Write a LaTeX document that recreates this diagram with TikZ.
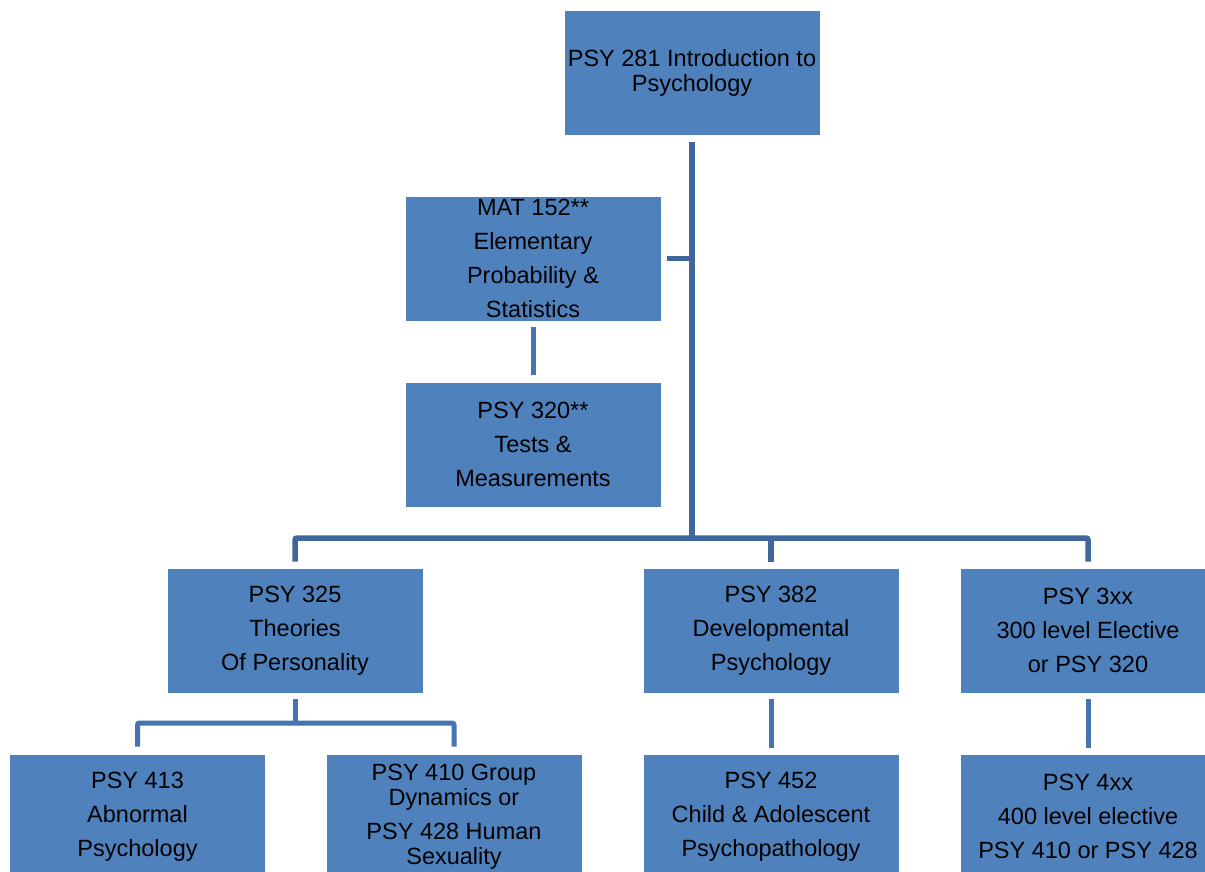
\documentclass[tikz,border=0pt]{standalone}
\usepackage{fontspec}
\setmainfont{Liberation Sans}
\definecolor{boxblue}{RGB}{79,129,189}
\definecolor{linedark}{RGB}{63,103,155}
\definecolor{linemid}{RGB}{70,116,176}
\begin{document}
\begin{tikzpicture}[x=1pt,y=-1pt,
  course/.style={rectangle, fill=boxblue, draw=white, line width=0.8pt,
    minimum width=256pt, minimum height=125pt, inner sep=0pt, align=center,
    text=black, font=\fontsize{23.5}{34}\selectfont},
  tight/.style={font=\fontsize{23.5}{25}\selectfont},
  conn/.style={draw=linedark, line width=5.5pt, rounded corners=2pt},
  stub/.style={draw=linemid, line width=5pt, rounded corners=2pt}]
\clip (0,0) rectangle (1205,871);
\fill[white] (0,0) rectangle (1205,871);

\node[course, tight] (top) at (692,72.5) {PSY 281 Introduction to\\Psychology};
\node[course] (mat) at (533,258.5) {MAT 152**\\Elementary\\Probability \&\\Statistics};
\node[course] (p320) at (533,444.5) {PSY 320**\\Tests \&\\Measurements};
\node[course] (p325) at (295,630.5) {PSY 325\\Theories\\Of Personality};
\node[course] (p382) at (771,630.5) {PSY 382\\Developmental\\Psychology};
\node[course] (p3xx) at (1088,630.5) {PSY 3xx\\300 level Elective\\or PSY 320};
\node[course] (p413) at (137.5,816.5) {PSY 413\\Abnormal\\Psychology};
\node[course, tight] (p410) at (454,816.5) {PSY 410 Group\\Dynamics or\\[9pt]PSY 428 Human\\Sexuality};
\node[course] (p452) at (771,816.5) {PSY 452\\Child \& Adolescent\\Psychopathology};
\node[course] (p4xx) at (1088,816.5) {PSY 4xx\\400 level elective\\PSY 410 or PSY 428};

\coordinate (bar) at (692,538);
% trunk
\draw[conn] ([yshift=-7pt]top.south) -- (bar);
% main bar
\draw[conn] ([yshift=6pt]p325.north) -- (p325.north |- bar) -| ([yshift=6pt]p3xx.north);
\draw[conn] ([yshift=6pt]p382.north) -- (p382.north |- bar);
% MAT connector
\draw[conn] ([xshift=6pt]mat.east) -- (mat.east -| bar);
% MAT -> PSY 320
\draw[stub] ([yshift=-6pt]mat.south) -- ([yshift=7pt]p320.north);
% PSY 325 -> 413, 410
\coordinate (sub) at (295,723);
\draw[stub] ([yshift=-6pt]p325.south) -- (sub);
\draw[stub] ([yshift=7pt]p413.north) -- (p413.north |- sub) -| ([yshift=7pt]p410.north);
% PSY 382 -> 452
\draw[stub] ([yshift=-6pt]p382.south) -- ([yshift=6pt]p452.north);
% PSY 3xx -> 4xx
\draw[stub] ([yshift=-6pt]p3xx.south) -- ([yshift=6pt]p4xx.north);
\end{tikzpicture}
\end{document}
